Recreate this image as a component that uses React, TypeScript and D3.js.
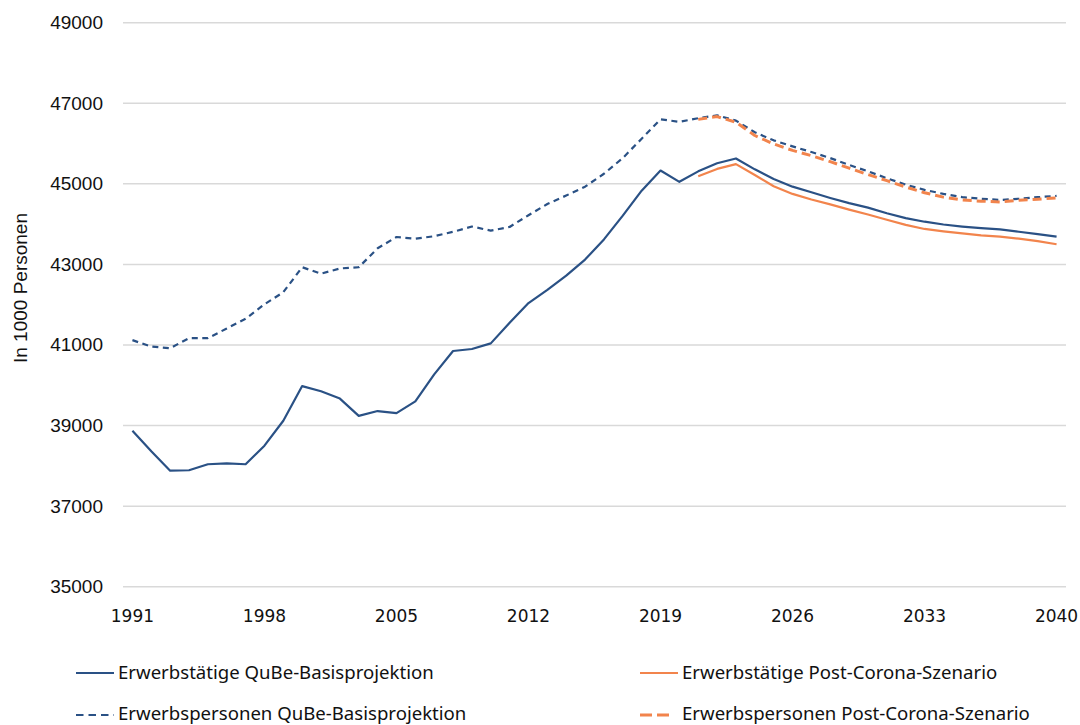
import React from "react";
import * as d3 from "d3";

const years: number[] = d3.range(1991, 2041);
const pcYears: number[] = d3.range(2021, 2041);

const erwerbstaetigeBasis = [
  38870, 38360, 37880, 37890, 38040, 38060, 38040, 38500, 39120, 39980,
  39850, 39670, 39240, 39360, 39310, 39600, 40270, 40850, 40900, 41040,
  41550, 42040, 42370, 42720, 43120, 43620, 44210, 44830, 45330, 45050,
  45310, 45510, 45630, 45360, 45120, 44930, 44790, 44650, 44520, 44410,
  44270, 44150, 44060, 43990, 43940, 43900, 43870, 43810, 43750, 43690,
];

const erwerbspersonenBasis = [
  41120, 40960, 40920, 41170, 41170, 41410, 41650, 42010, 42310, 42930,
  42770, 42900, 42930, 43400, 43680, 43640, 43700, 43810, 43940, 43840,
  43930, 44220, 44500, 44710, 44930, 45250, 45640, 46120, 46600, 46540,
  46630, 46700, 46570, 46280, 46080, 45930, 45790, 45640, 45470, 45310,
  45140, 44980, 44850, 44750, 44670, 44630, 44600, 44630, 44670, 44700,
];

const erwerbstaetigePC = [
  45190, 45370, 45490, 45220, 44940, 44750, 44610, 44490, 44360, 44240,
  44110, 43980, 43880, 43820, 43770, 43720, 43690, 43640, 43580, 43500,
];

const erwerbspersonenPC = [
  46600, 46670, 46530, 46200, 45990, 45830, 45700, 45550, 45390, 45230,
  45080, 44920, 44780, 44670, 44600, 44570, 44550, 44590, 44620, 44650,
];

const yTicks = [35000, 37000, 39000, 41000, 43000, 45000, 47000, 49000];
const xTickLabels = [1991, 1998, 2005, 2012, 2019, 2026, 2033, 2040];

const BLUE = "#2a5185";
const ORANGE = "#f2844c";

const seriesLabels = [
  "Erwerbstätige QuBe-Basisprojektion",
  "Erwerbstätige Post-Corona-Szenario",
  "Erwerbspersonen QuBe-Basisprojektion",
  "Erwerbspersonen Post-Corona-Szenario",
];

export default function App() {
  const W = 1080;
  const H = 725;
  const x = d3.scalePoint<number>().domain(years).range([123, 1066]).padding(0.5);
  const y = d3.scaleLinear().domain([35000, 49000]).range([586.7, 22.7]);

  const line = d3
    .line<[number, number]>()
    .x((d) => x(d[0]) as number)
    .y((d) => y(d[1]));

  const zip = (ys: number[], vs: number[]) => ys.map((yr, i) => [yr, vs[i]] as [number, number]);

  const series = [
    { data: zip(years, erwerbstaetigeBasis), color: BLUE, width: 2.2, dash: undefined as string | undefined },
    { data: zip(pcYears, erwerbstaetigePC), color: ORANGE, width: 2.2, dash: undefined },
    { data: zip(years, erwerbspersonenBasis), color: BLUE, width: 2.2, dash: "6,4.5" },
    { data: zip(pcYears, erwerbspersonenPC), color: ORANGE, width: 3, dash: "9,5" },
  ];

  const legendFont = "'Noto Sans', sans-serif";
  const legend = [
    { label: seriesLabels[0], color: BLUE, width: 2.2, dash: undefined as string | undefined, lx: 76, len: 38, ly: 673, ty: 679 },
    { label: seriesLabels[1], color: ORANGE, width: 2.2, dash: undefined, lx: 640, len: 38, ly: 673, ty: 679 },
    { label: seriesLabels[2], color: BLUE, width: 2.2, dash: "7.5,5", lx: 76, len: 38, ly: 715, ty: 720 },
    { label: seriesLabels[3], color: ORANGE, width: 3, dash: "12,5", lx: 640, len: 29, ly: 715, ty: 720 },
  ];

  return (
    <svg
      width={W}
      height={H}
      style={{ position: "absolute", left: 0, top: 0, background: "#fff" }}
    >
      <rect x={0} y={0} width={W} height={H} fill="#fff" />
      {yTicks.map((t) => (
        <g key={t}>
          <line x1={123} x2={1066} y1={y(t)} y2={y(t)} stroke="#d9d9d9" strokeWidth={1.5} />
          <text
            x={103}
            y={y(t) + 6.5}
            textAnchor="end"
            fontFamily="'Liberation Sans', Arial, sans-serif"
            fontSize={19}
            fill="#111"
          >
            {t}
          </text>
        </g>
      ))}
      {xTickLabels.map((yr) => (
        <text
          key={yr}
          x={x(yr) as number}
          y={622}
          textAnchor="middle"
          fontFamily="'DejaVu Sans', sans-serif"
          fontSize={17}
          fill="#111"
        >
          {yr}
        </text>
      ))}
      <text
        transform={`translate(27,288) rotate(-90)`}
        textAnchor="middle"
        fontFamily="'Liberation Sans', Arial, sans-serif"
        fontSize={19}
        fill="#111"
      >
        In 1000 Personen
      </text>
      {series.map((s, i) => (
        <path
          key={i}
          d={line(s.data) || ""}
          fill="none"
          stroke={s.color}
          strokeWidth={s.width}
          strokeDasharray={s.dash}
          strokeLinejoin="round"
        />
      ))}
      {legend.map((l, i) => (
        <g key={i}>
          <line
            x1={l.lx}
            x2={l.lx + l.len}
            y1={l.ly}
            y2={l.ly}
            stroke={l.color}
            strokeWidth={l.width}
            strokeDasharray={l.dash}
          />
          <text
            x={l.lx + 42}
            y={l.ty}
            fontFamily={legendFont}
            fontSize={18.6}
            fill="#111"
          >
            {l.label}
          </text>
        </g>
      ))}
    </svg>
  );
}
